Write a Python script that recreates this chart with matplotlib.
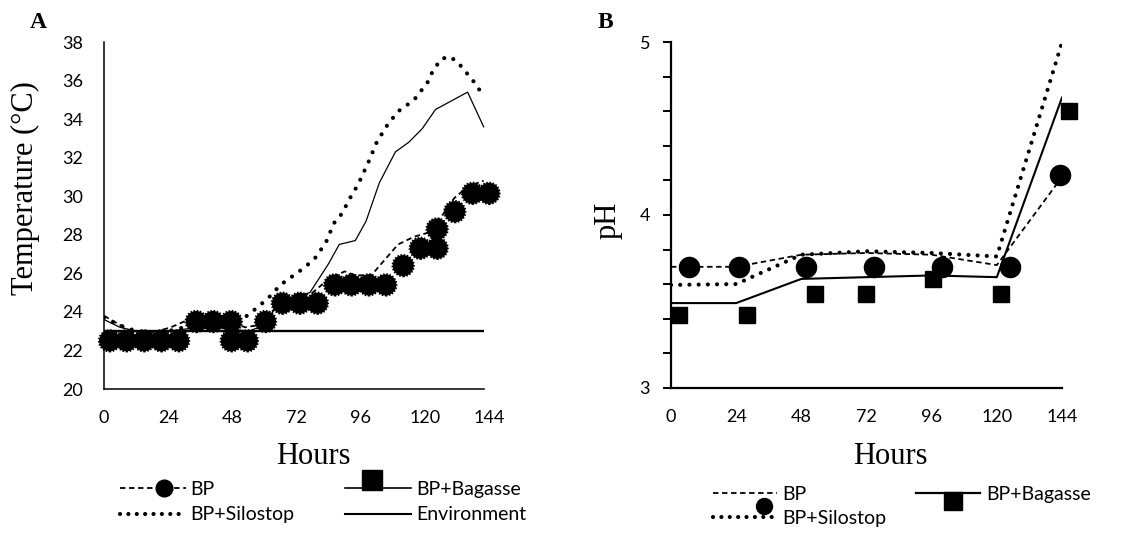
import matplotlib
matplotlib.use("Agg")
import matplotlib.pyplot as plt
from matplotlib.lines import Line2D
from matplotlib.legend_handler import HandlerBase

# ---------------- Panel A data (temperature) ----------------
hours_A_mk = [2.1, 8.4, 15.0, 21.4, 27.9, 34.5, 40.8, 47.6, 47.6, 53.6, 60.4, 66.7,
              73.2, 79.8, 86.3, 92.5, 99.0, 105.4, 111.9, 118.3, 124.6, 124.6,
              131.2, 137.8, 144.0]
temp_A_mk = [22.5, 22.5, 22.5, 22.5, 22.5, 23.5, 23.5, 23.5, 22.5, 22.5, 23.5, 24.45,
             24.45, 24.45, 25.4, 25.4, 25.4, 25.4, 26.4, 27.3, 28.3, 27.3,
             29.2, 30.15, 30.15]

hours_A_bp = [0, 5, 10, 15, 20, 25, 30, 36, 42, 48, 53, 57, 62, 67, 72, 78, 84, 90,
              94, 100, 105, 110, 116, 121, 126, 131, 136, 142]
temp_A_bp = [23.8, 23.4, 23.0, 22.95, 23.0, 23.2, 23.5, 23.6, 23.6, 23.4, 23.2, 23.3,
             23.9, 24.6, 24.8, 25.0, 25.7, 26.1, 25.9, 25.9, 26.7, 27.5, 27.9, 28.1,
             28.9, 29.9, 30.5, 30.8]

hours_A_silo = [0, 6, 12, 18, 24, 30, 36, 42, 48, 53, 58, 62, 66, 71, 75, 79, 83, 86,
                89, 92, 95, 99, 102, 106, 110, 116, 121, 123, 126, 129, 132, 135, 138, 142]
temp_A_silo = [23.7, 23.3, 23.0, 22.95, 23.0, 23.2, 23.35, 23.4, 23.2, 23.75, 24.3, 24.8,
               25.4, 25.9, 26.3, 26.8, 27.6, 28.6, 29.1, 29.9, 30.6, 31.8, 32.8, 33.7,
               34.4, 35.0, 35.9, 36.5, 37.1, 37.25, 37.0, 36.5, 36.0, 35.2]

hours_A_bag = [0, 6, 12, 18, 24, 30, 36, 42, 48, 54, 58, 62, 66, 72, 77, 84, 88, 94, 98,
               103, 109, 114, 119, 124, 136, 142]
temp_A_bag = [23.6, 23.2, 23.0, 23.0, 23.0, 23.1, 23.2, 23.2, 23.1, 23.0, 23.2, 23.8,
              24.5, 24.8, 25.0, 26.5, 27.5, 27.7, 28.7, 30.7, 32.3, 32.8, 33.5, 34.5,
              35.4, 33.6]

hours_A_env = [0, 142]
temp_A_env = [23.0, 23.0]

ticks_A_x = [0, 24, 48, 72, 96, 120, 144]
ticks_A_y = [20, 22, 24, 26, 28, 30, 32, 34, 36, 38]

# ---------------- Panel B data (pH) ----------------
hours_B = [0, 24, 48, 72, 96, 120, 144]
ph_B_bp = [3.70, 3.70, 3.77, 3.78, 3.77, 3.71, 4.22]
ph_B_bag = [3.49, 3.49, 3.63, 3.64, 3.65, 3.64, 4.68]
ph_B_silo = [3.595, 3.60, 3.77, 3.79, 3.78, 3.76, 5.00]
hours_B_circ = [6.7, 25.0, 49.9, 74.7, 99.8, 124.7, 143.1]
ph_B_circ = [3.70, 3.70, 3.70, 3.70, 3.70, 3.70, 4.23]
hours_B_sq = [3.1, 28.1, 53.2, 71.7, 96.5, 121.6, 146.7]
ph_B_sq = [3.42, 3.42, 3.54, 3.54, 3.63, 3.54, 4.60]
ticks_B_x = [0, 24, 48, 72, 96, 120, 144]
ticks_B_y = [3, 4, 5]

labels_A = ["BP", "BP+Bagasse", "BP+Silostop", "Environment"]
labels_B = ["BP", "BP+Bagasse", "BP+Silostop"]

TICKFONT = "Lato"
SERIF = "Liberation Serif"
TICKSIZE = 13
LEGSIZE = 14
LABSIZE = 22

fig = plt.figure(figsize=(11.29, 5.36), dpi=100)
W, H = 1129, 536


def ax_rect(l, r, t, b):
    return [l / W, 1 - b / H, (r - l) / W, (b - t) / H]


dotted = (0, (0.01, 2.4))
dashed = (0, (3, 2))


class LineMarkerHandler(HandlerBase):
    """Legend handle: a line plus an optional marker placed along / off the line."""

    def __init__(self, line_kw, marker_kw=None, mx=0.5, my=0.0):
        super().__init__()
        self.line_kw = line_kw
        self.marker_kw = marker_kw
        self.mx = mx
        self.my = my

    def create_artists(self, legend, orig_handle, xdescent, ydescent, width, height,
                       fontsize, trans):
        y = height / 2 - ydescent
        arts = []
        line = Line2D([-xdescent, width - xdescent], [y, y], **self.line_kw)
        line.set_transform(trans)
        arts.append(line)
        if self.marker_kw is not None:
            m = Line2D([self.mx * width - xdescent], [y + self.my], linestyle="none",
                       **self.marker_kw)
            m.set_transform(trans)
            arts.append(m)
        return arts


# ---------------- Panel A ----------------
axA = fig.add_axes(ax_rect(104, 489, 42, 389))
axA.plot(hours_A_env, temp_A_env, color="black", lw=1.7, solid_capstyle="butt")
axA.plot(hours_A_bag, temp_A_bag, color="black", lw=0.9)
axA.plot(hours_A_bp, temp_A_bp, color="black", lw=1.3, linestyle=dashed)
axA.plot(hours_A_silo, temp_A_silo, color="black", lw=3.0, linestyle=dotted,
         dash_capstyle="round")
axA.scatter(hours_A_mk, temp_A_mk, s=230, facecolor="black", edgecolor="black",
            linewidths=1.6, linestyles=(0, (0.7, 0.7)), zorder=5, clip_on=False)
axA.set_xlim(0, 144)
axA.set_ylim(20, 38)
axA.set_xticks(ticks_A_x)
axA.set_yticks(ticks_A_y)
axA.tick_params(axis="both", length=0, labelsize=TICKSIZE)
axA.tick_params(axis="y", pad=15)
axA.tick_params(axis="x", pad=15)
for lab in axA.get_xticklabels() + axA.get_yticklabels():
    lab.set_fontfamily(TICKFONT)
for s in ["top", "right"]:
    axA.spines[s].set_visible(False)
axA.spines["left"].set_linewidth(1.1)
axA.spines["bottom"].set_linewidth(1.1)
axA.spines["bottom"].set_bounds(0, 142)
axA.set_xlabel("Hours", fontfamily=SERIF, fontsize=LABSIZE)
axA.xaxis.set_label_coords(0.544, -0.152)
axA.set_ylabel("Temperature (\u00b0C)", fontfamily=SERIF, fontsize=LABSIZE)
axA.yaxis.set_label_coords(-0.165, 0.579)
fig.text(38 / W, 1 - 22 / H, "A", fontfamily=SERIF, fontweight="bold", fontsize=17,
         ha="center", va="center")

hA_art = [Line2D([], []) for _ in range(4)]
handlers_A = {
    hA_art[0]: LineMarkerHandler(dict(color="black", lw=1.3, linestyle=dashed),
                                 dict(marker="o", markersize=12, color="black"),
                                 mx=0.67, my=0.0),
    hA_art[1]: LineMarkerHandler(dict(color="black", lw=1.2),
                                 dict(marker="s", markersize=14, color="black"),
                                 mx=0.4, my=5.5),
    hA_art[2]: LineMarkerHandler(dict(color="black", lw=3.0, linestyle=(0, (0.01, 2.0)),
                                      dash_capstyle="round")),
    hA_art[3]: LineMarkerHandler(dict(color="black", lw=1.5)),
}
# column-major order so the rows read: BP | BP+Bagasse ; BP+Silostop | Environment
orderA = [0, 2, 1, 3]
legA = axA.legend([hA_art[i] for i in orderA], [labels_A[i] for i in orderA],
                  handler_map=handlers_A, ncol=2, loc="upper left",
                  bbox_to_anchor=(110 / W, 1 - 471 / H), bbox_transform=fig.transFigure,
                  frameon=False, borderpad=0, handlelength=3.4, handletextpad=0.25,
                  columnspacing=2.6, labelspacing=0.45,
                  prop={"family": TICKFONT, "size": LEGSIZE})

# ---------------- Panel B ----------------
axB = fig.add_axes(ax_rect(671, 1062, 42.3, 387.7))
axB.plot(hours_B, ph_B_bag, color="black", lw=1.5)
axB.plot(hours_B, ph_B_bp, color="black", lw=1.3, linestyle=dashed)
axB.plot(hours_B, ph_B_silo, color="black", lw=3.0, linestyle=(0, (0.01, 2.2)),
         dash_capstyle="round")
axB.plot(hours_B_circ, ph_B_circ, linestyle="none", marker="o", markersize=14.5,
         color="black", clip_on=False, zorder=5)
axB.plot(hours_B_sq, ph_B_sq, linestyle="none", marker="s", markersize=12,
         color="black", clip_on=False, zorder=5)
axB.set_xlim(0, 144)
axB.set_ylim(3, 5)
axB.set_xticks(ticks_B_x)
axB.set_yticks(ticks_B_y)
axB.set_yticks([3.2, 3.4, 3.6, 3.8, 4.2, 4.4, 4.6, 4.8], minor=True)
axB.tick_params(axis="x", length=0, labelsize=TICKSIZE, pad=15)
axB.tick_params(axis="y", which="major", length=6, width=1.4, direction="out",
                labelsize=TICKSIZE, pad=9)
axB.tick_params(axis="y", which="minor", length=6, width=1.4, direction="out")
for lab in axB.get_xticklabels() + axB.get_yticklabels():
    lab.set_fontfamily(TICKFONT)
for s in ["top", "right"]:
    axB.spines[s].set_visible(False)
axB.spines["left"].set_linewidth(1.6)
axB.spines["bottom"].set_linewidth(1.6)
axB.spines["bottom"].set_bounds(0, 144)
axB.set_xlabel("Hours", fontfamily=SERIF, fontsize=LABSIZE)
axB.xaxis.set_label_coords(0.560, -0.157)
axB.set_ylabel("pH", fontfamily=SERIF, fontsize=LABSIZE)
axB.yaxis.set_label_coords(-0.125, 0.483)
fig.text(605 / W, 1 - 22 / H, "B", fontfamily=SERIF, fontweight="bold", fontsize=17,
         ha="center", va="center")

hB_art = [Line2D([], []) for _ in range(3)]
handlers_B = {
    hB_art[0]: LineMarkerHandler(dict(color="black", lw=1.3, linestyle=dashed)),
    hB_art[1]: LineMarkerHandler(dict(color="black", lw=1.6),
                                 dict(marker="s", markersize=13, color="black"),
                                 mx=0.58, my=-6.0),
    hB_art[2]: LineMarkerHandler(dict(color="black", lw=3.0, linestyle=(0, (0.01, 2.0)),
                                      dash_capstyle="round"),
                                 dict(marker="o", markersize=11.5, color="black"),
                                 mx=0.8, my=8.0),
}
orderB = [0, 2, 1]
legB = axB.legend([hB_art[i] for i in orderB], [labels_B[i] for i in orderB],
                  handler_map=handlers_B, ncol=2, loc="upper left",
                  bbox_to_anchor=(703 / W, 1 - 476 / H), bbox_transform=fig.transFigure,
                  frameon=False, borderpad=0, handlelength=3.3, handletextpad=0.3,
                  columnspacing=1.5, labelspacing=0.35,
                  prop={"family": TICKFONT, "size": LEGSIZE})

fig.savefig("out.png", dpi=100)
